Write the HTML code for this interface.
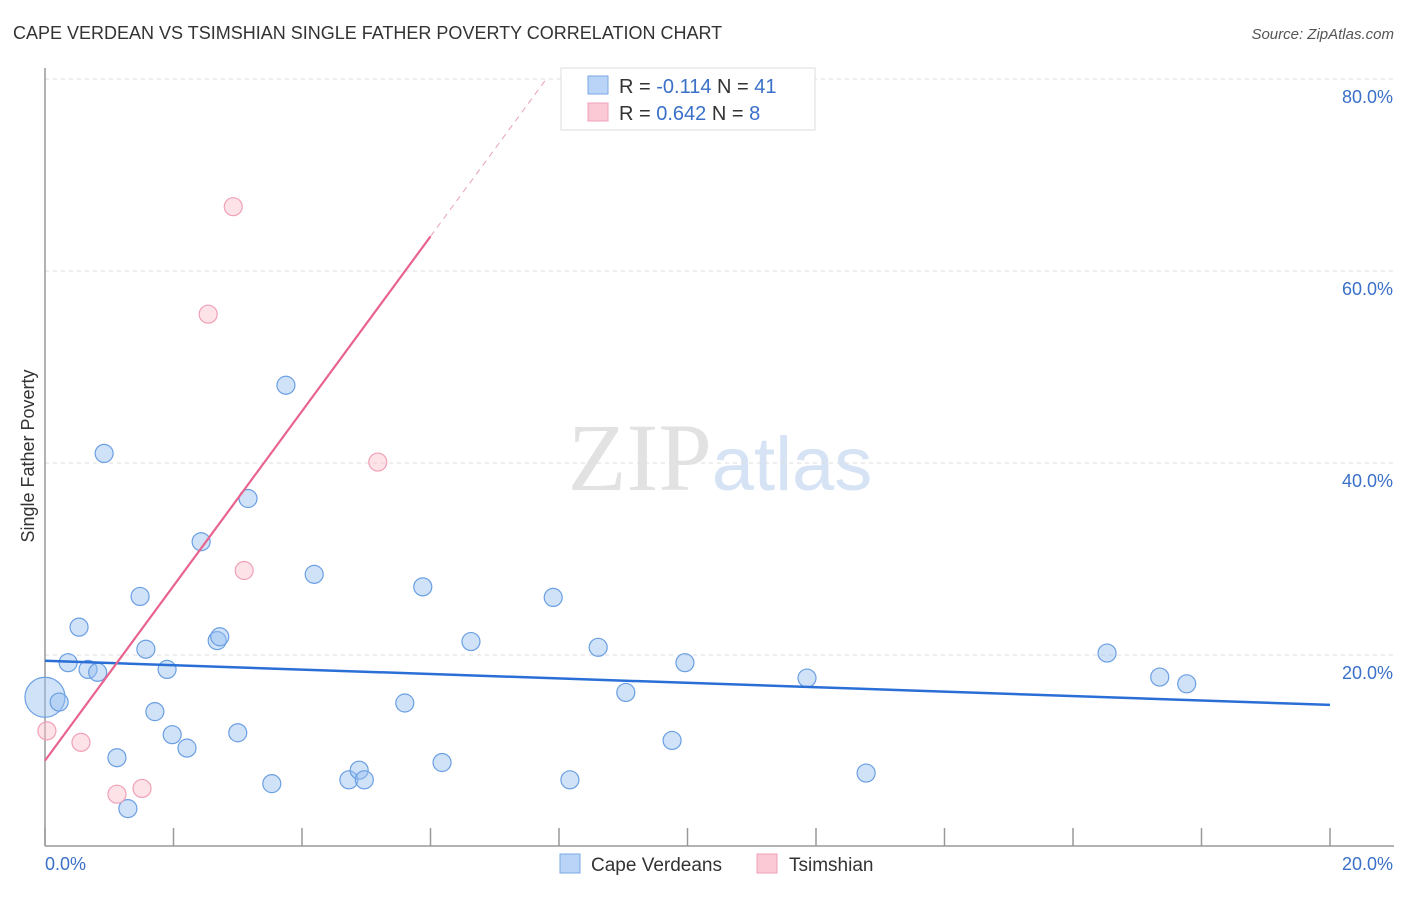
<!DOCTYPE html>
<html><head><meta charset="utf-8"><style>
body{margin:0;background:#fff;font-family:"Liberation Sans",sans-serif;}
svg text{font-family:"Liberation Sans",sans-serif;}
</style></head><body>
<svg id="chart" width="1406" height="892" xmlns="http://www.w3.org/2000/svg">
<text x="13" y="39" font-size="18" fill="#333">CAPE VERDEAN VS TSIMSHIAN SINGLE FATHER POVERTY CORRELATION CHART</text>
<text x="1394" y="39" font-size="15" fill="#555" text-anchor="end" font-style="italic">Source: ZipAtlas.com</text>
<text x="720" y="490" font-size="96" text-anchor="middle"><tspan fill="#e2e2e2" font-family="Liberation Serif">ZIP</tspan><tspan fill="#d6e3f5" font-size="76">atlas</tspan></text>
<text transform="translate(34,456) rotate(-90)" font-size="18" fill="#333" text-anchor="middle">Single Father Poverty</text>
<g id="grid"></g><g id="axes"></g><g id="marks"></g>
<g>
<rect x="561" y="68" width="254" height="62" fill="#fff" stroke="#ddd"/>
<rect x="588" y="76" width="20" height="18" fill="#b9d4f7" stroke="#7aa7e6"/>
<rect x="588" y="103" width="20" height="18" fill="#fbc8d6" stroke="#f0a0b8"/>
<text x="619" y="93" font-size="20" fill="#333">R = <tspan fill="#3a70c8">-0.114</tspan>   N = <tspan fill="#3a70c8">41</tspan></text>
<text x="619" y="120" font-size="20" fill="#333">R = <tspan fill="#3a70c8">0.642</tspan>   N = <tspan fill="#3a70c8">  8</tspan></text>
</g>
<g>
<rect x="560" y="854" width="20" height="19" fill="#b9d4f7" stroke="#7aa7e6"/>
<text x="591" y="871" font-size="19" fill="#333">Cape Verdeans</text>
<rect x="757" y="854" width="20" height="19" fill="#fbc8d6" stroke="#f0a0b8"/>
<text x="789" y="871" font-size="19" fill="#333">Tsimshian</text>
</g>
</svg>
<script>
const blueX=[0,0.22,0.36,0.53,0.67,0.82,0.92,1.12,1.29,1.48,1.57,1.71,1.90,1.98,2.21,2.43,2.68,2.72,3.00,3.16,3.53,3.75,4.19,4.73,4.89,4.97,5.60,5.88,6.18,6.63,7.91,8.17,8.61,9.04,9.76,9.96,11.86,12.78,16.53,17.35,17.77];
const blueY=[15.6,15.1,19.2,22.9,18.5,18.2,41.0,9.3,4.0,26.1,20.6,14.1,18.5,11.7,10.3,31.8,21.5,21.9,11.9,36.3,6.6,48.1,28.4,7.0,8.0,7.0,15.0,27.1,8.8,21.4,26.0,7.0,20.8,16.1,11.1,19.2,17.6,7.7,20.2,17.7,17.0];
const pinkX=[0.03,0.56,1.12,1.51,2.54,2.93,3.10,5.18];
const pinkY=[12.1,10.9,5.5,6.1,55.5,66.7,28.8,40.1];
const yTicks=[20,40,60,80];
const yTickLabels=["20.0%","40.0%","60.0%","80.0%"];
const blueTrend=[19.4,14.8];
const pinkTrend=[9.0,9.1];
const NS="http://www.w3.org/2000/svg";
const sx=v=>45+v/20*1285, sy=v=>847-v*9.6;
function mk(p,t,a){const e=document.createElementNS(NS,t);for(const k in a)e.setAttribute(k,a[k]);document.getElementById(p).appendChild(e);return e;}
yTicks.forEach((t,i)=>{
 const l=mk('grid','line',{x1:45,x2:1394,y1:sy(t),y2:sy(t),stroke:'#ddd','stroke-dasharray':'4,4'});
 
 
 const tx=mk('grid','text',{x:1393,y:sy(t)+24,'font-size':18,fill:'#3a70c8','text-anchor':'end'});
 tx.textContent=yTickLabels[i];
 
 
});
let ax=mk('axes','line',{x1:45,x2:45,y1:68,y2:846,stroke:'#999','stroke-width':1.5});


ax=mk('axes','line',{x1:45,x2:1394,y1:846,y2:846,stroke:'#999','stroke-width':1.5});


for(let i=0;i<=10;i++){const t=mk('axes','line',{x1:sx(i*2),x2:sx(i*2),y1:828,y2:846,stroke:'#999','stroke-width':1.5});
 
 }
let xl=mk('axes','text',{x:45,y:870,'font-size':18,fill:'#3a70c8'});xl.textContent='0.0%';


xl=mk('axes','text',{x:1393,y:870,'font-size':18,fill:'#3a70c8','text-anchor':'end'});xl.textContent='20.0%';


blueX.forEach((x,i)=>{const c=mk('marks','circle',{cx:sx(x),cy:sy(blueY[i]),r:i==0?20:9,fill:'rgba(150,190,240,0.45)',stroke:'#6a9fe3','stroke-width':1.2});
 
 });
pinkX.forEach((x,i)=>{const c=mk('marks','circle',{cx:sx(x),cy:sy(pinkY[i]),r:9,fill:'rgba(250,190,205,0.45)',stroke:'#f0a0b8','stroke-width':1.2});
 
 });
let tl=mk('marks','line',{x1:sx(0),y1:sy(blueTrend[0]),x2:sx(20),y2:sy(blueTrend[1]),stroke:'#2a6fd6','stroke-width':2.5});


tl=mk('marks','line',{x1:sx(0),y1:sy(pinkTrend[0]),x2:sx(6),y2:sy(pinkTrend[0]+pinkTrend[1]*6),stroke:'#e8638d','stroke-width':2.2});


const xe=(80-pinkTrend[0])/pinkTrend[1];
tl=mk('marks','line',{x1:sx(6),y1:sy(pinkTrend[0]+pinkTrend[1]*6),x2:sx(xe),y2:sy(80),stroke:'#e8a0b5','stroke-width':1,'stroke-dasharray':'6,5'});


</script>
</body></html>
